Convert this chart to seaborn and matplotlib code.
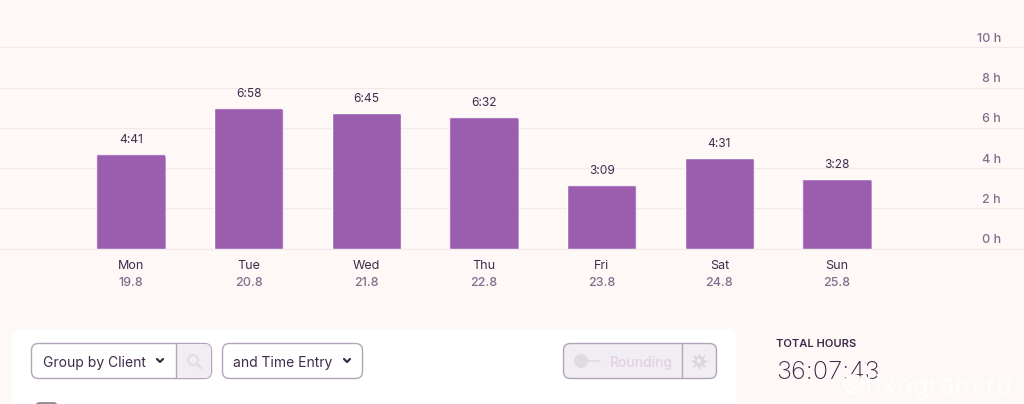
import matplotlib
matplotlib.use("Agg")
import matplotlib.pyplot as plt
import seaborn as sns
from matplotlib.patches import FancyBboxPatch, Rectangle, Circle
from matplotlib.transforms import IdentityTransform, ScaledTranslation

days = ["Mon", "Tue", "Wed", "Thu", "Fri", "Sat", "Sun"]
dates = ["19.8", "20.8", "21.8", "22.8", "23.8", "24.8", "25.8"]
durations = ["4:41", "6:58", "6:45", "6:32", "3:09", "4:31", "3:28"]
hours = [4 + 41/60, 6 + 58/60, 6 + 45/60, 6 + 32/60, 3 + 9/60, 4 + 31/60, 3 + 28/60]
y_ticks = [0, 2, 4, 6, 8, 10]
y_labels = ["0 h", "2 h", "4 h", "6 h", "8 h", "10 h"]

BG = "#FEF8F6"
BAR = "#9B5EAF"
DARK = "#3F2A4C"
MUTED = "#7F6E8C"
GRID = "#F0EAEC"
EDGE = "#B3A4BA"
FILL = "#F0EEF2"

sns.set_theme(style="white")
plt.rcParams["font.family"] = ["Inter", "DejaVu Sans"]

fig = plt.figure(figsize=(10.24, 4.04), dpi=100, facecolor=BG)
# chart axes: full width, from the top edge down to the 0 h line
ax = fig.add_axes([0, (404 - 248.5) / 404, 1, 248.5 / 404], facecolor=BG)
sns.barplot(x=days, y=hours, color=BAR, saturation=1, width=0.59, ax=ax, zorder=3)

ax.set_xlim(-1.1135, 7.589)
ax.set_ylim(0, 12.363)
for s in ax.spines.values():
    s.set_visible(False)
ax.set_axisbelow(True)
ax.set_yticks(y_ticks)
ax.set_yticklabels(y_labels)
ax.yaxis.grid(True, color=GRID, lw=1, clip_on=False)
ax.xaxis.grid(False)
ax.tick_params(axis="y", left=False, right=False, labelleft=False, labelright=True,
               pad=-22.5, labelsize=9, labelcolor=MUTED)
shift = ScaledTranslation(0, 8.5 / 100, fig.dpi_scale_trans)
for lab in ax.get_yticklabels():
    lab.set_ha("right")
    lab.set_va("center")
    lab.set_transform(lab.get_transform() + shift)
    lab.set_fontweight("medium")
ax.tick_params(axis="x", bottom=False, pad=2.2, labelsize=9, labelcolor=DARK)
ax.set_xlabel("")
ax.set_ylabel("")

bars = ax.containers[0]
ax.bar_label(bars, labels=durations, padding=5.8, fontsize=8.6, color=DARK)
for x, d in zip(range(len(days)), dates):
    ax.annotate(d, xy=(x, 0), xycoords="data", xytext=(0, -34 * 0.72), textcoords="offset points",
                ha="center", va="center", fontsize=9, color=MUTED, fontweight="medium",
                annotation_clip=False)

fig.canvas.draw()
for b in bars:
    e = b.get_window_extent()
    clip = FancyBboxPatch((e.x0, e.y0 - 20), e.width, e.height + 20,
                          boxstyle="round,pad=0,rounding_size=3.5", transform=IdentityTransform())
    b.set_clip_path(clip)

# page widgets below the chart, in pixel coordinates
ui = fig.add_axes([0, 0, 1, 1], facecolor="none")
ui.set_xlim(0, 1024)
ui.set_ylim(404, 0)
ui.axis("off")


def box(x0, y0, x1, y1, r=7, fc="white", ec=EDGE, lw=1.0, z=2):
    p = FancyBboxPatch((x0, y0), x1 - x0, y1 - y0, boxstyle=f"round,pad=0,rounding_size={r}",
                       fc=fc, ec=ec, lw=lw, zorder=z)
    ui.add_patch(p)
    return p


def chevron(x, y):
    ui.plot([x - 3, x, x + 3], [y - 1.5, y + 1.5, y - 1.5], color=DARK, lw=1.6, zorder=5,
            solid_capstyle="round", solid_joinstyle="round")


box(12, 329, 736, 440, r=9, ec="none", z=1)

# Group by Client + search
box(31.5, 343.5, 211.5, 378.5)
left = FancyBboxPatch((176.5, 344), 34.5, 34, boxstyle="round,pad=0,rounding_size=6", fc=FILL, ec="none", zorder=3)
ui.add_patch(left)
ui.add_patch(Rectangle((176.5, 344), 10, 34, fc=FILL, ec="none", zorder=3))
ui.plot([176, 176], [344, 378], color=EDGE, lw=1, zorder=4)
ui.add_patch(Circle((193, 360), 5, fc="none", ec="#DEDBE1", lw=1.3, zorder=5))
ui.plot([197, 201], [364, 368], color="#DEDBE1", lw=1.5, zorder=5)
ui.text(43, 362.5, "Group by Client", fontsize=10, color=DARK, va="center", ha="left", zorder=5)
chevron(160, 360.5)

# and Time Entry
box(222.5, 343.5, 362.5, 378.5)
ui.text(233, 362.5, "and Time Entry", fontsize=10, color=DARK, va="center", ha="left", zorder=5)
chevron(347, 360.5)

# Rounding
box(563.5, 343.5, 716.5, 378.5, fc=FILL)
ui.plot([682, 682], [344, 378], color=EDGE, lw=1, zorder=4)
ui.add_patch(Circle((581, 361), 7, fc="#DEDBE1", ec="none", zorder=5))
ui.plot([581, 600], [361, 361], color="#DEDBE1", lw=1.2, zorder=4)
ui.text(609.5, 363, "Rounding", fontsize=10, color="#E3CFE6", fontweight="medium", va="center", ha="left", zorder=5)
ui.plot([699], [361], marker=(8, 1, 0), ms=13, color="#DAD7DD", mec="none", zorder=5)
ui.add_patch(Circle((699, 361), 2.2, fc=FILL, ec="none", zorder=6))

# Checkbox peeking in at the bottom edge
box(36, 403, 57, 420, r=4, fc="white", ec="#8E8296", lw=1.3)

# Total hours
ui.text(776, 344, "TOTAL HOURS", fontsize=8.0, color=DARK, fontweight="semibold", va="center", ha="left")
ui.text(776, 372.5, "36:07:43", fontsize=18.2, color=DARK, fontweight="light", va="center", ha="left")
ui.text(841, 387, "©fixogram.ru", fontsize=19.5, color="white", alpha=0.9, va="center", ha="left", zorder=6)

fig.savefig("out.png", dpi=100, facecolor=BG)
